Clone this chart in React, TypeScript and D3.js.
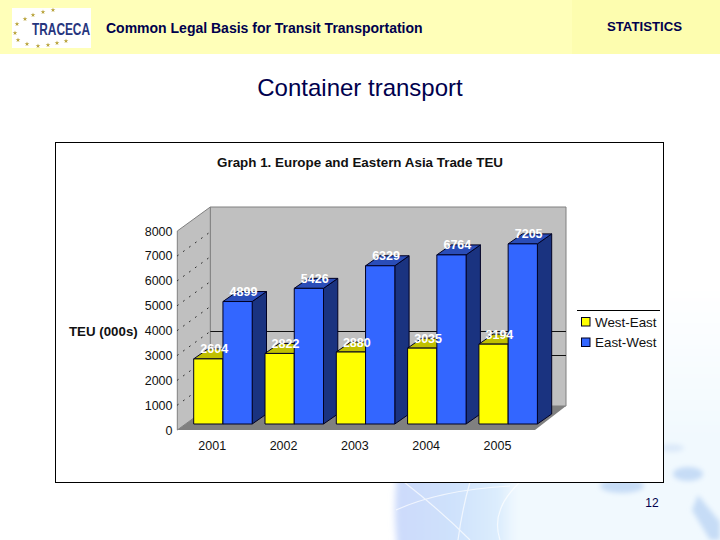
import React from 'react';
import * as d3 from 'd3';

const years = ['2001', '2002', '2003', '2004', '2005'];
const seriesNames = ['West-East', 'East-West'];
const westEast = [2604, 2822, 2880, 3035, 3194];
const eastWest = [4899, 5426, 6329, 6764, 7205];
const yTicks = [0, 1000, 2000, 3000, 4000, 5000, 6000, 7000, 8000];
const backGridValues = [3000, 4000];

const FONT = '"Liberation Sans", Arial, sans-serif';
const NAVY = '#00004d';

// depth of the 3d box and of the bars
const wallDx = 33;
const wallDy = -24;
const barDx = 14.3;
const barDy = -10;

const yBar = d3.scaleLinear().domain([0, 8000]).range([424, 224]);
const yWall = d3.scaleLinear().domain([0, 8000]).range([430, 231]);
const xYear = d3.scaleBand().domain(years).range([187.3, 543.8]);
const xSeries = d3.scaleBand().domain(seriesNames).range([6.4, 64.9]);

const colors: Record<string, { front: string; top: string; side: string }> = {
  'West-East': { front: '#ffff00', top: '#c0c000', side: '#808000' },
  'East-West': { front: '#3366ff', top: '#2a4db8', side: '#1a3380' },
};

const pts = (p: number[][]) => p.map(d => d.join(',')).join(' ');

const logoStars = [[53, 10], [43, 12], [33, 15], [25, 19], [17, 24], [15, 33], [18, 40], [27, 44], [38, 46], [48, 45], [57, 43], [66, 41]];

const App: React.FC = () => {
  const star = d3.symbol().type(d3.symbolStar).size(7)() as string;
  const floorL = 177.3;
  const floorR = 535;
  const wallTop = yWall(8000);
  const wallBottom = yWall(0);

  const bars = years.flatMap((yr, i) => [
    { yr, name: seriesNames[0], value: westEast[i] },
    { yr, name: seriesNames[1], value: eastWest[i] },
  ]);

  return (
    <svg width={720} height={540} style={{ position: 'absolute', left: 0, top: 0 }} fontFamily={FONT}>
      <defs>
        <linearGradient id="globeFill" x1="0" x2="1" y1="0" y2="0">
          <stop offset="0" stopColor="#ccdafb" />
          <stop offset="0.1" stopColor="#cfe2fc" />
          <stop offset="0.17" stopColor="#dcedfd" />
          <stop offset="0.2" stopColor="#f1f9fe" />
          <stop offset="1" stopColor="#f1f9fe" />
        </linearGradient>
        <linearGradient id="fadeUp" x1="0" x2="0" y1="0" y2="1">
          <stop offset="0.25" stopColor="#fff" stopOpacity="0" />
          <stop offset="0.7" stopColor="#fff" stopOpacity="1" />
        </linearGradient>
        <mask id="globeMask">
          <rect x={380} y={200} width={340} height={340} fill="url(#fadeUp)" />
        </mask>
        <filter id="soft"><feGaussianBlur stdDeviation="2.5" /></filter>
        <filter id="edge"><feGaussianBlur stdDeviation="3" /></filter>
      </defs>

      <rect width={720} height={540} fill="#ffffff" />

      {/* globe in the background */}
      <g mask="url(#globeMask)">
        <circle cx={700} cy={510} r={305} fill="url(#globeFill)" filter="url(#edge)" />
        <g filter="url(#soft)" fill="#c6dcf6">
          <ellipse cx={622} cy={486} rx={22} ry={7} />
          <ellipse cx={688} cy={474} rx={15} ry={7} />
          <ellipse cx={672} cy={448} rx={12} ry={4} fill="#dbe9f9" />
          <path d="M698,495 L720,522 L720,540 L710,540 L692,510 Z" />
        </g>
        <g fill="none" stroke="#ffffff" strokeWidth={1.2} opacity={0.7}>
          <path d="M404,482 Q440,510 470,540" />
          <path d="M470,482 Q462,510 458,540" />
          <path d="M396,510 Q440,490 510,486" />
          <path d="M520,482 Q490,510 500,540" />
        </g>
      </g>

      {/* header */}
      <rect width={720} height={54} fill="#ffffb9" />
      <rect x={572} width={148} height={54} fill="#fdfdaf" />
      <rect x={12} y={8} width={79} height={40} fill="#ffffff" />
      {logoStars.map((s, i) => (
        <path key={i} d={star} transform={`translate(${s[0]},${s[1]})`} fill="#b8a23a" />
      ))}
      <text x={32} y={35} fontSize={17} fontWeight="bold" fill="#27367e" textLength={58} lengthAdjust="spacingAndGlyphs">TRACECA</text>
      <text x={106} y={32.5} fontSize={14} fontWeight="bold" fill={NAVY}>Common Legal Basis for Transit Transportation</text>
      <text x={607} y={31} fontSize={13.2} fontWeight="bold" fill={NAVY}>STATISTICS</text>
      <text x={360} y={96} fontSize={24} textAnchor="middle" fill={NAVY}>Container transport</text>
      <text x={652} y={507} fontSize={12} textAnchor="middle" fill={NAVY}>12</text>

      {/* chart frame */}
      <rect x={55.5} y={142.5} width={608} height={340} fill="#ffffff" stroke="#000000" />
      <text x={360} y={167} fontSize={13.4} fontWeight="bold" textAnchor="middle" fill="#111">Graph 1. Europe and Eastern Asia Trade TEU</text>

      {/* 3d box */}
      <polygon points={pts([[floorL + wallDx, wallTop + wallDy], [566, wallTop + wallDy], [566, wallBottom + wallDy], [floorL + wallDx, wallBottom + wallDy]])} fill="#c0c0c0" stroke="#808080" />
      <polygon points={pts([[floorL, wallBottom], [floorL + wallDx, wallBottom + wallDy], [floorL + wallDx, wallTop + wallDy], [floorL, wallTop]])} fill="#c0c0c0" stroke="#808080" />
      <polygon points={pts([[floorL, wallBottom], [floorR, wallBottom], [566, wallBottom + wallDy], [floorL + wallDx, wallBottom + wallDy]])} fill="#808080" />
      {yTicks.slice(1, -1).map(t => (
        <line key={t} x1={floorL} x2={floorL + wallDx} y1={yWall(t)} y2={yWall(t) + wallDy} stroke="#000" strokeDasharray="1.4 6" />
      ))}
      {backGridValues.map(t => (
        <line key={t} x1={floorL + wallDx} x2={566} y1={Math.round(yWall(t)) + 0.5} y2={Math.round(yWall(t)) + 0.5} stroke="#111" />
      ))}

      {/* bars */}
      {bars.map(b => {
        const x0 = (xYear(b.yr) as number) + (xSeries(b.name) as number);
        const x1 = x0 + xSeries.bandwidth();
        const y0 = yBar(0);
        const yv = yBar(b.value);
        const c = colors[b.name];
        return (
          <g key={b.yr + b.name} stroke="#000022" strokeWidth={1} strokeLinejoin="round">
            <polygon points={pts([[x1, y0], [x1 + barDx, y0 + barDy], [x1 + barDx, yv + barDy], [x1, yv]])} fill={c.side} />
            <polygon points={pts([[x0, yv], [x1, yv], [x1 + barDx, yv + barDy], [x0 + barDx, yv + barDy]])} fill={c.top} />
            <rect x={x0} y={yv} width={x1 - x0} height={y0 - yv} fill={c.front} />
          </g>
        );
      })}
      {bars.map(b => (
        <text key={b.yr + b.name} x={(xYear(b.yr) as number) + (xSeries(b.name) as number) + 20.5} y={yBar(b.value) - 5.5} fontSize={12.5} fontWeight="bold" textAnchor="middle" fill="#ffffff">{b.value}</text>
      ))}

      {/* axes labels */}
      {yTicks.map(t => (
        <text key={t} x={172.5} y={yWall(t) + 4.5} fontSize={12.5} textAnchor="end" fill="#111">{t}</text>
      ))}
      {years.map(yr => (
        <text key={yr} x={(xYear(yr) as number) + xYear.bandwidth() / 2 - 10.7} y={449.5} fontSize={12.5} textAnchor="middle" fill="#111">{yr}</text>
      ))}
      <text x={69} y={335.5} fontSize={13.3} fontWeight="bold" fill="#111">TEU (000s)</text>

      {/* legend */}
      <line x1={577} x2={660} y1={310.5} y2={310.5} stroke="#000" />
      {seriesNames.map((name, i) => (
        <g key={name}>
          <rect x={581.5} y={317.5 + i * 20.5} width={8.5} height={8.5} fill={colors[name].front} stroke="#000022" />
          <text x={595} y={326.5 + i * 20.3} fontSize={13.4} fill="#111">{name}</text>
        </g>
      ))}
    </svg>
  );
};

export default App;
